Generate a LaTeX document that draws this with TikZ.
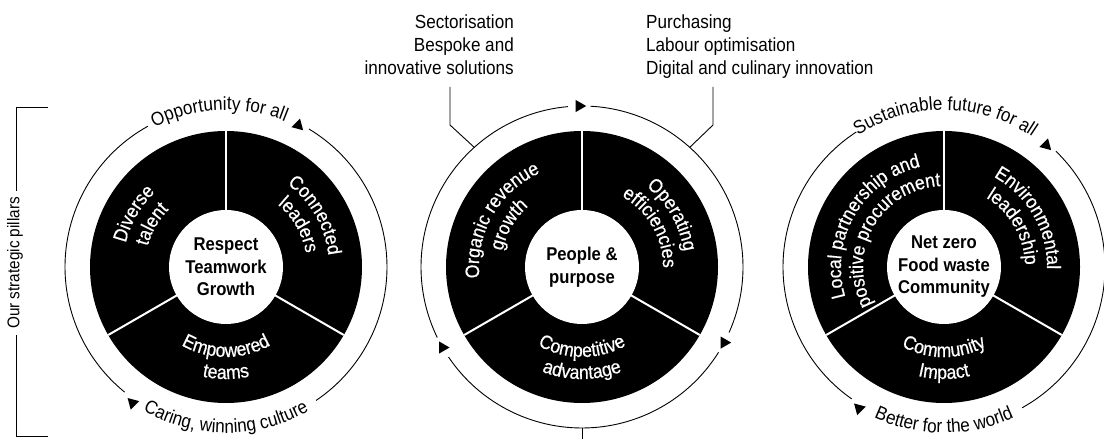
\documentclass[tikz,border=0pt]{standalone}
\usepackage{fontspec}
\setmainfont[FakeStretch=0.9]{Liberation Sans}
\newfontfamily\segfam[FakeStretch=0.9,FakeBold=0.6]{Liberation Sans}
\usetikzlibrary{decorations.text,shapes.geometric,calc}
\newcommand\ringfnt{\fontsize{19}{22}\selectfont}
\newcommand\segfnt{\segfam\fontsize{19.5}{22}\selectfont}
\newcommand\hubfnt{\fontsize{18.5}{22.5}\selectfont\bfseries}
\newcommand\topfnt{\fontsize{19}{23}\selectfont}
\newcommand\pilfnt{\fontsize{17}{20}\selectfont}
\newcommand\curvetext[6]{%
  \path[decorate, decoration={text along path, text color=#5, text align=center, text={#6}}]
    ($(#1)+(#2:#4)$) arc[start angle=#2, end angle=#3, radius=#4];}
\begin{document}
\begin{tikzpicture}[x=1pt,y=1pt,
  ring/.style={line width=0.9pt},
  hub/.style={circle, fill=white, minimum size=114pt, inner sep=0pt, align=center, font=\hubfnt},
  divider/.style={white, line width=2pt},
  tri/.style={regular polygon, regular polygon sides=3, fill=black, inner sep=0pt, minimum size=14pt},
  conn/.style={line width=0.9pt},
  toplabel/.style={font=\topfnt, inner sep=0pt}
]
\useasboundingbox (0,0) rectangle (1104,439);
\coordinate (L) at (226,172);
\coordinate (M) at (582,172);
\coordinate (R) at (944,172);

% disks and dividers
\foreach \c in {L,M,R}{
  \fill (\c) circle[radius=136];
  \foreach \a in {90,210,330} \draw[divider] (\c) -- ++(\a:136);
}
\node[hub] (lhub) at (L) {Respect\\Teamwork\\Growth};
\node[hub] (mhub) at (M) {People \&\\purpose};
\node[hub] (rhub) at (R) {Net zero\\Food waste\\Community};

% segment labels
\curvetext{L}{230}{70}{103}{white}{|\segfnt|Diverse}
\curvetext{L}{230}{70}{81}{white}{|\segfnt|talent}
\curvetext{L}{110}{-50}{103}{white}{|\segfnt|Connected}
\curvetext{L}{110}{-50}{81}{white}{|\segfnt|leaders}
\curvetext{L}{190}{350}{90}{white}{|\segfnt|Empowered}
\curvetext{L}{190}{350}{112}{white}{|\segfnt|teams}

\curvetext{M}{230}{70}{103}{white}{|\segfnt|Organic revenue}
\curvetext{M}{230}{70}{81}{white}{|\segfnt|growth}
\curvetext{M}{110}{-50}{103}{white}{|\segfnt|Operating}
\curvetext{M}{110}{-50}{81}{white}{|\segfnt|efficiencies}
\curvetext{M}{190}{350}{90}{white}{|\segfnt|Competitive}
\curvetext{M}{190}{350}{112}{white}{|\segfnt|advantage}

\curvetext{R}{230}{70}{103}{white}{|\segfnt|Local partnership and}
\curvetext{R}{230}{70}{81}{white}{|\segfnt|positive procurement}
\curvetext{R}{110}{-50}{103}{white}{|\segfnt|Environmental}
\curvetext{R}{110}{-50}{81}{white}{|\segfnt|leadership}
\curvetext{R}{190}{350}{90}{white}{|\segfnt|Community}
\curvetext{R}{190}{350}{112}{white}{|\segfnt|Impact}

% outer rings
\draw[ring] ($(L)+(119:161)$) arc[start angle=119, end angle=231, radius=161];
\draw[ring] ($(L)+(-56:161)$) arc[start angle=-56, end angle=59, radius=161];
\draw[ring] ($(R)+(123:161)$) arc[start angle=123, end angle=235, radius=161];
\draw[ring] ($(R)+(-61:161)$) arc[start angle=-61, end angle=46, radius=161];
\draw[ring] ($(M)+(95:161)$) arc[start angle=95, end angle=206, radius=161];
\draw[ring] ($(M)+(214:161)$) arc[start angle=214, end angle=328, radius=161];
\draw[ring] ($(M)+(336:161)$) arc[start angle=336, end angle=447, radius=161];

% ring texts
\curvetext{L}{130}{55}{157}{black}{|\ringfnt|Opportunity for all}
\curvetext{L}{232}{308}{166}{black}{|\ringfnt|Caring, winning culture}
\curvetext{R}{132}{47}{157}{black}{|\ringfnt|Sustainable future for all}
\curvetext{R}{235}{305}{166}{black}{|\ringfnt|Better for the world}

% ring arrows
\node[tri, rotate=-15] (la1) at ($(L)+(63:159)$) {};
\node[tri, rotate=165] (la2) at ($(L)+(235.5:165)$) {};
\node[tri, rotate=-15] (ra1) at ($(R)+(50:159)$) {};
\node[tri, rotate=165] (ra2) at ($(R)+(239:165)$) {};
\node[tri, rotate=-90] (ma1) at ($(M)+(91:161)$) {};
\node[tri, rotate=-90] (ma2) at ($(M)+(210:161)$) {};
\node[tri, rotate=-90] (ma3) at ($(M)+(332:161)$) {};

% top labels and connectors
\node[toplabel, anchor=north east, align=right] (sect) at (514,424)
  {Sectorisation\\Bespoke and\\innovative solutions};
\node[toplabel, anchor=north west, align=left] (purch) at (646,424)
  {Purchasing\\Labour optimisation\\Digital and culinary innovation};
\coordinate (sectFoot) at (450,352);
\coordinate (purchFoot) at (713,352);
\coordinate (mTL) at ($(M)+(132:161)$);
\coordinate (mTR) at ($(M)+(48:161)$);
\draw[conn] (sectFoot) -- ++(0,-38) -- (mTL);
\draw[conn] (purchFoot) -- ++(0,-38) -- (mTR);
\coordinate (mBot) at ($(M)+(270:161)$);
\coordinate (mOut) at (582,0);
\draw[conn] (mBot) -- (mOut);

% bracket
\node[rotate=90, font=\pilfnt, inner xsep=6pt, inner ysep=0pt] (pil) at (15,176) {Our strategic pillars};
\coordinate (brT) at (48,331);
\coordinate (brB) at (48,2);
\draw[conn, line width=1pt] (brT) -- (16,331) -- (pil.east -| 16,0);
\draw[conn, line width=1pt] (pil.west -| 16,0) -- (16,2) -- (brB);
\end{tikzpicture}
\end{document}
